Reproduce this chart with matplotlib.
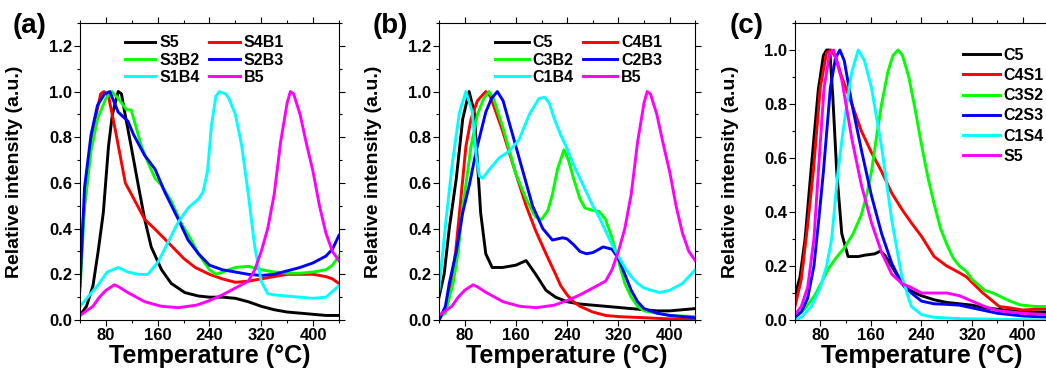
import matplotlib
matplotlib.use("Agg")
import matplotlib.pyplot as plt
from matplotlib.ticker import MultipleLocator

plt.rcParams['font.family'] = ['Liberation Sans', 'DejaVu Sans']
plt.rcParams['font.weight'] = 'bold'

# ---------- (a) S/B series ----------
a_s5_t = [40, 50, 60, 68, 76, 84, 90, 99, 104, 109, 119, 130, 140, 150, 166, 181, 202, 223, 240, 260,
          280, 300, 320, 340, 360, 380, 400, 420, 440]
a_s5_v = [0.02, 0.06, 0.15, 0.3, 0.47, 0.76, 0.9, 1.0, 0.99, 0.91, 0.76, 0.59, 0.44, 0.32, 0.22, 0.16, 0.12, 0.105, 0.10, 0.10,
          0.095, 0.08, 0.06, 0.045, 0.035, 0.03, 0.025, 0.02, 0.02]

a_s4b1_t = [40, 47, 57, 65, 72, 77, 84, 94, 104, 110, 127, 140, 155, 176, 200, 218, 240, 260, 280, 300,
            320, 340, 360, 380, 400, 420, 430, 440]
a_s4b1_v = [0.27, 0.5, 0.76, 0.9, 0.99, 1.0, 0.98, 0.84, 0.69, 0.6, 0.51, 0.44, 0.4, 0.34, 0.27, 0.23, 0.2, 0.18, 0.165, 0.17,
            0.18, 0.19, 0.2, 0.2, 0.2, 0.19, 0.18, 0.16]

a_s3b2_t = [40, 47, 57, 67, 80, 89, 99, 112, 119, 127, 135, 145, 156, 166, 181, 197, 212, 223, 240, 250,
            260, 280, 300, 320, 340, 360, 380, 400, 420, 430, 440]
a_s3b2_v = [0.13, 0.5, 0.74, 0.88, 0.97, 1.0, 0.97, 0.92, 0.92, 0.84, 0.76, 0.69, 0.62, 0.59, 0.52, 0.42, 0.35, 0.29, 0.22, 0.2,
            0.21, 0.23, 0.235, 0.22, 0.21, 0.205, 0.205, 0.21, 0.22, 0.24, 0.28]

a_s2b3_t = [40, 47, 57, 67, 78, 86, 99, 114, 123, 140, 156, 171, 192, 207, 223, 240, 260, 280, 300, 320,
            340, 360, 380, 400, 420, 430, 440]
a_s2b3_v = [0.15, 0.58, 0.81, 0.94, 0.99, 1.0, 0.91, 0.87, 0.81, 0.72, 0.66, 0.56, 0.44, 0.35, 0.29, 0.24, 0.22, 0.21, 0.2, 0.195,
            0.2, 0.215, 0.23, 0.25, 0.28, 0.31, 0.37]

a_s1b4_t = [40, 52, 67, 82, 99, 114, 130, 145, 161, 176, 192, 207, 223, 230, 237, 243, 250, 255, 265, 270,
            280, 290, 300, 310, 320, 330, 340, 360, 380, 400, 420, 440]
a_s1b4_v = [0.06, 0.1, 0.15, 0.21, 0.23, 0.21, 0.2, 0.2, 0.256, 0.34, 0.43, 0.49, 0.53, 0.56, 0.65, 0.85, 0.98, 1.0, 0.99, 0.97,
            0.9, 0.76, 0.55, 0.32, 0.17, 0.115, 0.11, 0.105, 0.1, 0.095, 0.1, 0.15]

# B5 is the same sample in (a) and (b)
b5_t = [40, 50, 60, 70, 80, 93, 100, 114, 140, 166, 192, 220, 240, 260, 280, 300, 310, 320, 330, 340,
        350, 360, 365, 370, 380, 390, 400, 410, 420, 430, 440]
b5_v = [0.02, 0.04, 0.06, 0.1, 0.13, 0.154, 0.145, 0.12, 0.08, 0.06, 0.054, 0.065, 0.085, 0.11, 0.14, 0.17, 0.22, 0.3, 0.4, 0.55,
        0.78, 0.95, 1.0, 0.99, 0.9, 0.77, 0.65, 0.5, 0.38, 0.3, 0.26]

# ---------- (b) C/B series ----------
b_c5_t = [40, 48, 56, 67, 77, 87, 95, 100, 105, 113, 123, 139, 160, 176, 191, 207, 222, 240, 260, 280,
          300, 320, 340, 360, 380, 400, 420, 440]
b_c5_v = [0.1, 0.2, 0.4, 0.62, 0.88, 1.0, 0.91, 0.69, 0.47, 0.29, 0.23, 0.23, 0.24, 0.26, 0.2, 0.13, 0.1, 0.08, 0.07, 0.065,
          0.06, 0.055, 0.05, 0.045, 0.04, 0.04, 0.045, 0.05]

b_c4b1_t = [40, 50, 59, 66, 72, 82, 90, 100, 113, 120, 139, 160, 176, 191, 207, 222, 230, 240, 250, 260,
            280, 300, 320, 360, 400, 440]
b_c4b1_v = [0.0, 0.05, 0.16, 0.3, 0.47, 0.76, 0.88, 0.96, 1.0, 0.98, 0.83, 0.64, 0.5, 0.39, 0.29, 0.2, 0.15, 0.11, 0.08, 0.06,
            0.035, 0.02, 0.015, 0.01, 0.005, 0.005]

b_c3b2_t = [40, 50, 62, 70, 76, 90, 100, 110, 118, 125, 139, 150, 160, 176, 191, 200, 210, 217, 225, 235,
            242, 250, 260, 268, 280, 290, 300, 310, 320, 330, 340, 350, 360, 380, 400, 440]
b_c3b2_v = [0.01, 0.03, 0.16, 0.3, 0.47, 0.76, 0.9, 0.97, 1.0, 0.97, 0.85, 0.74, 0.64, 0.53, 0.45, 0.44, 0.48, 0.55, 0.66, 0.745,
            0.7, 0.62, 0.53, 0.49, 0.48, 0.475, 0.44, 0.36, 0.26, 0.16, 0.1, 0.06, 0.04, 0.03, 0.02, 0.015]

b_c2b3_t = [40, 50, 56, 67, 77, 88, 98, 113, 122, 131, 140, 150, 160, 171, 186, 202, 217, 233, 240, 250,
            260, 270, 280, 290, 296, 310, 320, 330, 340, 350, 360, 380, 400, 440]
b_c2b3_v = [0.0, 0.06, 0.16, 0.3, 0.47, 0.6, 0.74, 0.91, 0.97, 1.0, 0.96, 0.86, 0.76, 0.65, 0.5, 0.4, 0.35, 0.36, 0.355, 0.33,
            0.3, 0.29, 0.295, 0.31, 0.32, 0.31, 0.27, 0.2, 0.13, 0.08, 0.05, 0.03, 0.02, 0.01]

b_c1b4_t = [40, 51, 61, 72, 82, 92, 98, 103, 108, 119, 134, 150, 165, 181, 196, 205, 212, 220, 230, 240,
            250, 260, 270, 280, 290, 300, 310, 320, 330, 340, 350, 360, 384, 400, 420, 440]
b_c1b4_v = [0.13, 0.44, 0.69, 0.91, 1.0, 0.91, 0.72, 0.63, 0.62, 0.66, 0.71, 0.74, 0.79, 0.9, 0.97, 0.975, 0.95, 0.88, 0.81, 0.75,
            0.68, 0.62, 0.56, 0.5, 0.45, 0.39, 0.33, 0.28, 0.23, 0.19, 0.16, 0.14, 0.12, 0.13, 0.16, 0.22]

# ---------- (c) C/S series ----------
c_c5_t = [40, 48, 56, 66, 77, 85, 90, 95, 100, 106, 114, 124, 140, 150, 166, 175, 182, 198, 214, 230,
          240, 260, 280, 300, 320, 340, 360, 380, 400, 440]
c_c5_v = [0.09, 0.16, 0.3, 0.57, 0.855, 0.98, 1.0, 1.0, 0.82, 0.55, 0.32, 0.235, 0.235, 0.24, 0.245, 0.255, 0.24, 0.18, 0.12, 0.1,
          0.09, 0.075, 0.065, 0.06, 0.055, 0.045, 0.04, 0.035, 0.03, 0.03]

c_c4s1_t = [40, 50, 60, 69, 80, 90, 97, 105, 114, 130, 145, 161, 177, 193, 209, 224, 240, 260, 280, 300,
            311, 337, 363, 380, 400, 420, 440]
c_c4s1_v = [0.05, 0.15, 0.35, 0.55, 0.86, 0.99, 1.0, 0.97, 0.9, 0.8, 0.7, 0.62, 0.55, 0.47, 0.41, 0.36, 0.31, 0.235, 0.2, 0.175,
            0.16, 0.1, 0.05, 0.045, 0.037, 0.04, 0.043]

c_c3s2_t = [40, 55, 71, 80, 93, 105, 119, 132, 145, 153, 161, 169, 177, 187, 195, 203, 210, 220, 230, 240,
            250, 260, 270, 280, 290, 300, 311, 320, 340, 353, 380, 396, 420, 440]
c_c3s2_v = [0.01, 0.04, 0.09, 0.13, 0.19, 0.23, 0.27, 0.32, 0.39, 0.46, 0.55, 0.68, 0.8, 0.92, 0.98, 1.0, 0.98, 0.9, 0.78, 0.65,
            0.53, 0.43, 0.34, 0.28, 0.23, 0.2, 0.18, 0.15, 0.11, 0.1, 0.07, 0.056, 0.05, 0.05]

c_c2s3_t = [40, 50, 60, 70, 78, 85, 96, 104, 111, 118, 130, 145, 161, 177, 193, 209, 224, 240, 260, 280,
            300, 320, 340, 360, 380, 400, 440]
c_c2s3_v = [0.01, 0.03, 0.08, 0.2, 0.38, 0.55, 0.86, 0.97, 1.0, 0.96, 0.8, 0.63, 0.46, 0.32, 0.21, 0.135, 0.1, 0.07, 0.06, 0.058,
            0.055, 0.045, 0.035, 0.025, 0.02, 0.015, 0.01]

c_c1s4_t = [40, 50, 66, 80, 90, 98, 108, 115, 122, 130, 140, 150, 161, 177, 193, 209, 224, 240, 260, 300, 440]
c_c1s4_v = [0.0, 0.01, 0.05, 0.12, 0.2, 0.3, 0.55, 0.68, 0.8, 0.92, 1.0, 0.96, 0.86, 0.64, 0.37, 0.16, 0.05, 0.02, 0.01, 0.005, 0.0]

c_s5_t = [40, 50, 60, 70, 77, 86, 95, 101, 114, 130, 145, 161, 177, 193, 209, 224, 240, 260, 280, 300,
          320, 340, 360, 380, 400, 440]
c_s5_v = [0.02, 0.05, 0.12, 0.3, 0.55, 0.86, 0.99, 1.0, 0.89, 0.67, 0.5, 0.36, 0.25, 0.17, 0.135, 0.12, 0.1, 0.1, 0.1, 0.09,
          0.07, 0.05, 0.035, 0.03, 0.025, 0.02]

colors = ['black', '#ff0000', '#00ff00', '#0000ff', '#00ffff', '#ff00ff']

panel_a = [(a_s5_t, a_s5_v, 'S5'), (a_s4b1_t, a_s4b1_v, 'S4B1'), (a_s3b2_t, a_s3b2_v, 'S3B2'),
           (a_s2b3_t, a_s2b3_v, 'S2B3'), (a_s1b4_t, a_s1b4_v, 'S1B4'), (b5_t, b5_v, 'B5')]
panel_b = [(b_c5_t, b_c5_v, 'C5'), (b_c4b1_t, b_c4b1_v, 'C4B1'), (b_c3b2_t, b_c3b2_v, 'C3B2'),
           (b_c2b3_t, b_c2b3_v, 'C2B3'), (b_c1b4_t, b_c1b4_v, 'C1B4'), (b5_t, b5_v, 'B5')]
panel_c = [(c_c5_t, c_c5_v, 'C5'), (c_c4s1_t, c_c4s1_v, 'C4S1'), (c_c3s2_t, c_c3s2_v, 'C3S2'),
           (c_c2s3_t, c_c2s3_v, 'C2S3'), (c_c1s4_t, c_c1s4_v, 'C1S4'), (c_s5_t, c_s5_v, 'S5')]

fig = plt.figure(figsize=(10.46, 3.78), dpi=100)
ax_a = fig.add_axes([0.0765, 0.1534, 0.2475, 0.7857])
ax_b = fig.add_axes([0.4197, 0.1534, 0.2450, 0.7857])
ax_c = fig.add_axes([0.760, 0.1534, 0.2419, 0.7857])


def style_axis(ax, ymax):
    ax.set_xlim(40, 440)
    ax.set_ylim(0, ymax)
    ax.xaxis.set_major_locator(MultipleLocator(80))
    ax.xaxis.set_minor_locator(MultipleLocator(40))
    ax.yaxis.set_major_locator(MultipleLocator(0.2))
    ax.yaxis.set_minor_locator(MultipleLocator(0.1))
    ax.tick_params(which='both', direction='out', top=True, right=True, labeltop=False, labelright=False,
                   width=0.8, labelsize=12, pad=1.5)
    ax.tick_params(which='major', length=4)
    ax.tick_params(which='minor', length=2.5)
    ax.set_yticks([t for t in ax.get_yticks() if t <= 1.21])
    ax.set_ylim(0, ymax)
    ax.yaxis.set_major_formatter(plt.FormatStrFormatter('%.1f'))
    for sp in ax.spines.values():
        sp.set_linewidth(0.8)
    ax.set_xlabel('Temperature (°C)', fontsize=18, fontweight='bold')
    ax.set_ylabel('Relative intensity (a.u.)', fontsize=14, fontweight='bold')
    ax.xaxis.set_label_coords(0.5, -0.08)
    ax.yaxis.set_label_coords(-0.222, 0.5)
    ax.xaxis.label.set_va('top')


for ax, series, ymax in [(ax_a, panel_a, 1.3), (ax_b, panel_b, 1.3), (ax_c, panel_c, 1.1)]:
    for (t, v, name), col in zip(series, colors):
        ax.plot(t, v, color=col, lw=2.1, label=name)
    style_axis(ax, ymax)

# two-column legends in (a) and (b), filled row by row
for ax, x0, hl in [(ax_a, 0.174, 1.9), (ax_b, 0.219, 2.1)]:
    h, l = ax.get_legend_handles_labels()
    order = [0, 2, 4, 1, 3, 5]
    ax.legend([h[i] for i in order], [l[i] for i in order], ncol=2, frameon=False,
              loc='upper left', bbox_to_anchor=(x0, 0.958), borderpad=0, borderaxespad=0,
              handlelength=hl, handletextpad=0.25, columnspacing=0.6, labelspacing=0.13,
              prop={'size': 11.5, 'weight': 'bold'})

ax_c.legend(frameon=False, loc='upper left', bbox_to_anchor=(0.664, 0.917), borderpad=0, borderaxespad=0,
            handlelength=2.3, handletextpad=0.25, labelspacing=0.33, prop={'size': 11.5, 'weight': 'bold'})

fig.text(0.012, 0.93, '(a)', fontsize=20, fontweight='bold', va='center')
fig.text(0.356, 0.93, '(b)', fontsize=20, fontweight='bold', va='center')
fig.text(0.698, 0.93, '(c)', fontsize=20, fontweight='bold', va='center')

fig.savefig('out.png', dpi=100)
